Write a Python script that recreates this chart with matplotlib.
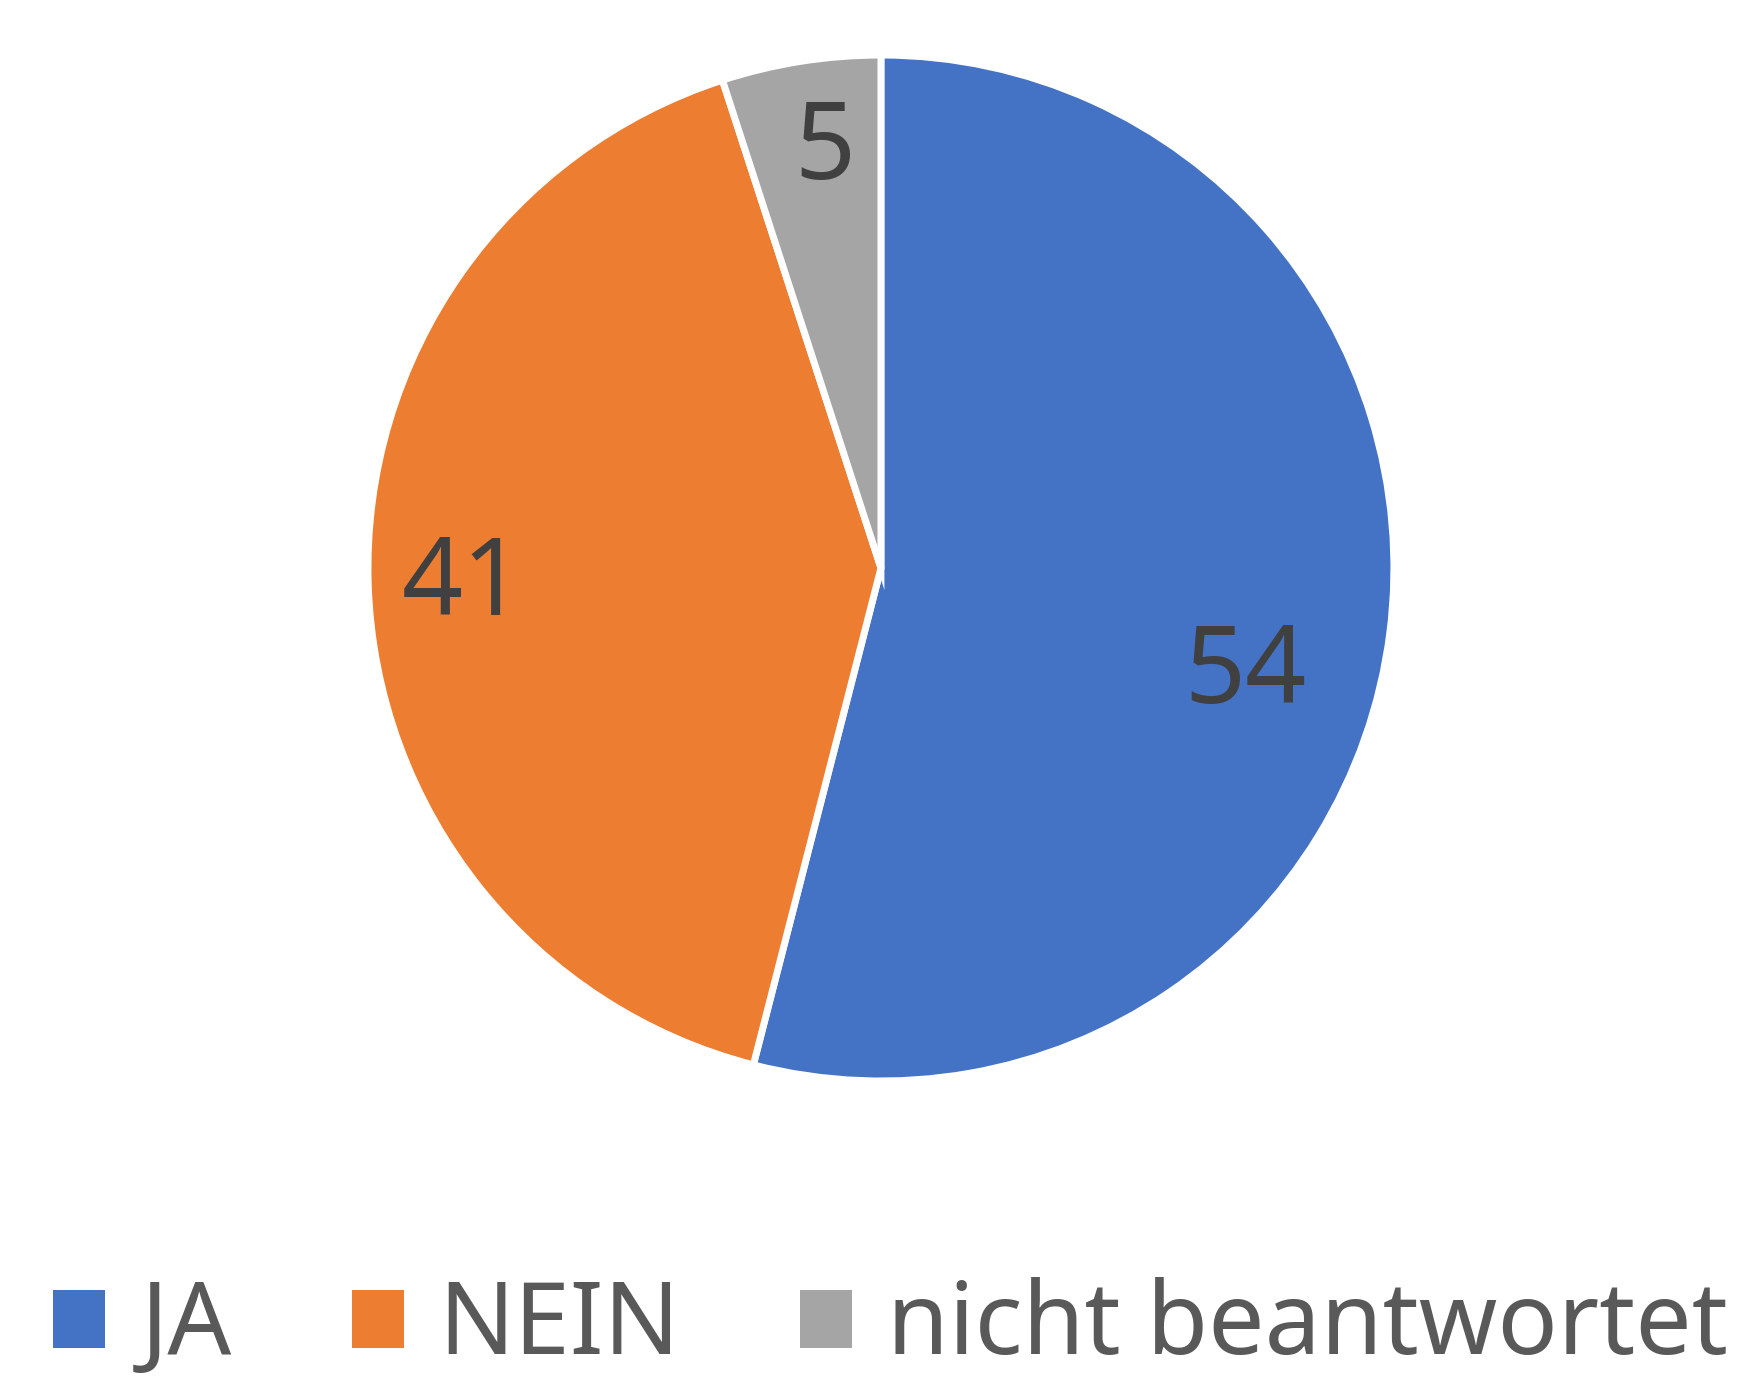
import numpy as np
import matplotlib.pyplot as plt
from matplotlib.patches import Patch

# data
categories = ['JA', 'NEIN', 'nicht beantwortet']
values = [54, 41, 5]
colors = ['#4472C4', '#ED7D31', '#A5A5A5']

plt.rcParams['font.family'] = ['Noto Sans', 'DejaVu Sans']
plt.rcParams['font.weight'] = 'medium'

fig = plt.figure(figsize=(17.64, 13.79), dpi=100)
ax = fig.add_axes([0.2086, 0.2161, 0.5816, 0.744])

wedges, texts, autotexts = ax.pie(
    values, colors=colors, startangle=90, counterclock=False,
    autopct=lambda p: '%d' % round(p * sum(values) / 100.0),
    pctdistance=0.8, radius=1.0,
    wedgeprops=dict(edgecolor='white', linewidth=5),
    textprops=dict(color='#404040', fontsize=77))

# excel "best fit" label placement: tweak radius / angle per slice
label_r = [0.74, 0.815, 0.82]
label_dang = [-9.2, 0.8, -1.3]
for w, t, r, da in zip(wedges, autotexts, label_r, label_dang):
    ang = np.deg2rad((w.theta1 + w.theta2) / 2 + da)
    t.set_position((r * np.cos(ang), r * np.sin(ang)))
    t.set_ha('center')
    t.set_va('center')

ax.set_xlim(-1, 1)
ax.set_ylim(-1, 1)
ax.set_aspect('equal')

handles = [Patch(facecolor=c, edgecolor='none') for c in colors]
leg = fig.legend(handles, categories, loc='center', bbox_to_anchor=(0.505, 0.037),
                 ncol=3, frameon=False, fontsize=72, handlelength=0.52, handleheight=0.52,
                 handletextpad=0.35, columnspacing=1.2, labelcolor='#595959')

fig.savefig('out.png', dpi=100, facecolor='white')
